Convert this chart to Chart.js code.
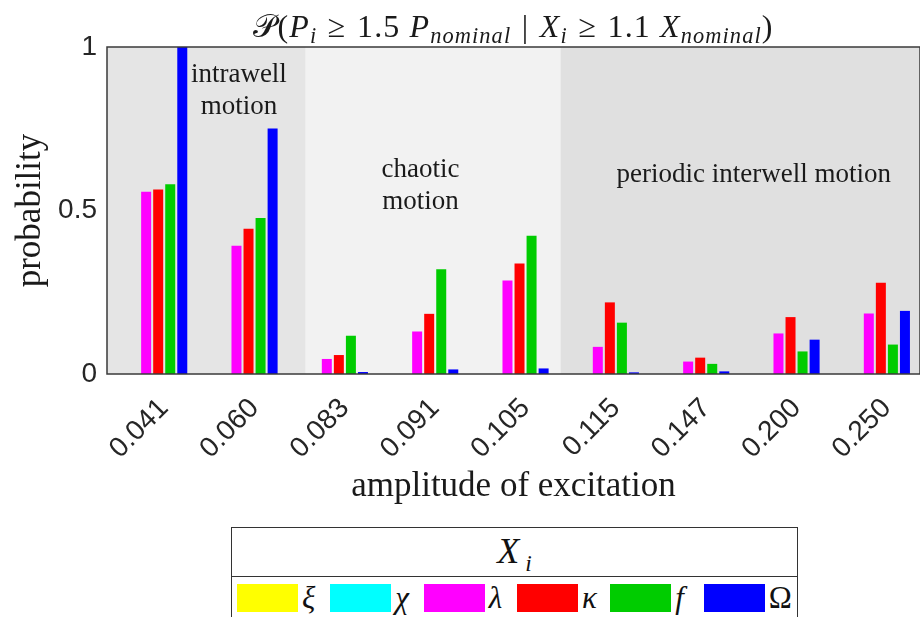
<!DOCTYPE html>
<html>
<head>
<meta charset="utf-8">
<script src="https://cdn.jsdelivr.net/npm/chart.js@4.4.1/dist/chart.umd.min.js"></script>
<style>
  body { margin: 0; background: #fff; }
  #wrap { position: relative; width: 920px; height: 617px; overflow: hidden; }
  #chart { position: absolute; left: 0; top: 0; }
  #title {
    position: absolute; left: 107px; width: 813px; top: 10px; text-align: center; line-height: 1;
    font-family: "Liberation Serif", serif; font-size: 32px; color: #1a1a1a; white-space: nowrap; letter-spacing: 1.1px;
  }
  #title i { font-style: italic; }
  #title sub { font-size: 0.7em; vertical-align: -0.25em; line-height: 0; }
  #title .rel { margin: 0 0.33em; }
  #legend {
    position: absolute; left: 231px; top: 527px; width: 567px; height: 100px;
    border: 1.5px solid #333; background: #fff; box-sizing: border-box;
  }
  #legend .head {
    height: 48px; border-bottom: 1.5px solid #333; text-align: center;
    font-family: "Liberation Serif", serif; font-style: italic; font-size: 36px; line-height: 46px; color: #111;
  }
  #legend .head sub { font-size: 0.65em; vertical-align: -0.35em; line-height: 0; margin-left: 6px; }
  #legend .items { display: flex; padding: 7px 0 0 5px; align-items: center; }
  #legend .item { display: flex; align-items: center; width: 94px; }
  #legend .box { width: 61px; height: 28px; }
  #legend .sym { margin-left: 4px; font-family: "Liberation Serif", serif; font-style: italic; font-size: 31px; color: #111; line-height: 28px; }
</style>
</head>
<body>
<div id="wrap">
  <canvas id="chart" width="920" height="617"></canvas>
  <div id="title">𝒫(<i>P</i><sub><i>i</i></sub><span class="rel">≥</span>1.5 <i>P</i><sub><i>nominal</i></sub><span class="rel">|</span><i>X</i><sub><i>i</i></sub><span class="rel">≥</span>1.1 <i>X</i><sub><i>nominal</i></sub>)</div>
  <div id="legend">
    <div class="head">X<sub>i</sub></div>
    <div class="items" id="legend-items"></div>
  </div>
</div>
<script>
// amplitude categories (x axis)
const amplitudes = ['0.041', '0.060', '0.083', '0.091', '0.105', '0.115', '0.147', '0.200', '0.250'];

// probability per parameter X_i
const xiValues     = [0, 0, 0, 0, 0, 0, 0, 0, 0];
const chiValues    = [0, 0, 0, 0, 0, 0, 0, 0, 0];
const lambdaValues = [0.557, 0.392, 0.046, 0.130, 0.286, 0.083, 0.038, 0.124, 0.185];
const kappaValues  = [0.564, 0.444, 0.058, 0.184, 0.338, 0.219, 0.050, 0.174, 0.279];
const fValues      = [0.580, 0.477, 0.117, 0.320, 0.423, 0.157, 0.031, 0.069, 0.090];
const omegaValues  = [1.000, 0.751, 0.006, 0.014, 0.017, 0.005, 0.008, 0.105, 0.193];

const seriesNames = ['ξ', 'χ', 'λ', 'κ', 'f', 'Ω'];
const yTicks = [0, 0.5, 1];

// motion regimes, edges given in category index units
const regimeEdges = [-0.5, 1.70, 4.52, 8.5];
const regimeLabels = [['intrawell', 'motion'], ['chaotic', 'motion'], ['periodic interwell motion']];

const colors = ['#ffff00', '#00ffff', '#ff00ff', '#ff0000', '#00cc00', '#0000ff'];
const regimeColors = ['#e5e5e5', '#f2f2f2', '#e0e0e0'];
// label anchor (center x in category units, first line y as probability)
const regimeLabelPos = [[0.96, 0.915], [2.97, 0.625], [6.66, 0.61]];

const allValues = [xiValues, chiValues, lambdaValues, kappaValues, fValues, omegaValues];

// build legend rows
const legendBox = document.getElementById('legend-items');
seriesNames.forEach((name, i) => {
    const item = document.createElement('div');
    item.className = 'item';
    const sym = name === 'Ω' ? `<span class="sym" style="font-style:normal">${name}</span>` : `<span class="sym">${name}</span>`;
    item.innerHTML = `<div class="box" style="background:${colors[i]}"></div>${sym}`;
    legendBox.appendChild(item);
});

const regimePlugin = {
    id: 'regimes',
    beforeDatasetsDraw(chart) {
        const {ctx, chartArea, scales} = chart;
        const x = scales.x, y = scales.y;
        ctx.save();
        for (let i = 0; i < regimeColors.length; i++) {
            const x0 = Math.max(chartArea.left, x.getPixelForValue(regimeEdges[i]));
            const x1 = Math.min(chartArea.right, x.getPixelForValue(regimeEdges[i + 1]));
            ctx.fillStyle = regimeColors[i];
            ctx.fillRect(x0, chartArea.top, x1 - x0, chartArea.bottom - chartArea.top);
        }
        ctx.fillStyle = '#1a1a1a';
        ctx.font = '27px "Liberation Serif"';
        ctx.textAlign = 'center';
        ctx.textBaseline = 'middle';
        regimeLabels.forEach((lines, i) => {
            const cx = x.getPixelForValue(regimeLabelPos[i][0]);
            const cy = y.getPixelForValue(regimeLabelPos[i][1]);
            lines.forEach((t, k) => ctx.fillText(t, cx, cy + k * 32));
        });
        ctx.restore();
    },
    afterDatasetsDraw(chart) {
        const {ctx, chartArea} = chart;
        ctx.save();
        ctx.strokeStyle = '#3a3a3a';
        ctx.lineWidth = 1.5;
        ctx.strokeRect(chartArea.left, chartArea.top, chartArea.right - chartArea.left, chartArea.bottom - chartArea.top);
        ctx.restore();
    }
};

const ctx = document.getElementById('chart').getContext('2d');
new Chart(ctx, {
    type: 'bar',
    data: {
        labels: amplitudes,
        datasets: seriesNames.map((name, i) => ({
            label: name,
            data: allValues[i],
            backgroundColor: colors[i],
            borderWidth: 0,
            categoryPercentage: 0.8,
            barPercentage: 0.83
        }))
    },
    options: {
        responsive: false,
        animation: false,
        layout: { padding: { top: 47, right: 0, bottom: 105, left: 0 } },
        plugins: {
            legend: { display: false },
            tooltip: { enabled: false }
        },
        scales: {
            x: {
                grid: { display: false, drawTicks: false },
                border: { display: false },
                ticks: {
                    autoSkip: false,
                    minRotation: 45,
                    maxRotation: 45,
                    padding: 18,
                    labelOffset: 12,
                    color: '#262626',
                    font: { family: 'Liberation Sans', size: 28 }
                },
                title: {
                    display: true,
                    text: 'amplitude of excitation',
                    color: '#1a1a1a',
                    font: { family: 'Liberation Serif', size: 35 },
                    padding: { top: 0, bottom: 4 }
                },
                afterFit(scale) { scale.height = 138; }
            },
            y: {
                min: 0,
                max: 1,
                grid: { display: false, drawTicks: false },
                border: { display: false },
                afterBuildTicks(scale) { scale.ticks = yTicks.map(v => ({ value: v })); },
                ticks: {
                    padding: 10,
                    color: '#262626',
                    font: { family: 'Liberation Sans', size: 28 },
                    callback: v => String(v)
                },
                title: {
                    display: true,
                    text: 'probability',
                    color: '#1a1a1a',
                    font: { family: 'Liberation Serif', size: 35 },
                    padding: { top: 10, bottom: 0 }
                },
                afterFit(scale) { scale.width = 107; }
            }
        }
    },
    plugins: [regimePlugin]
});
</script>
</body>
</html>
